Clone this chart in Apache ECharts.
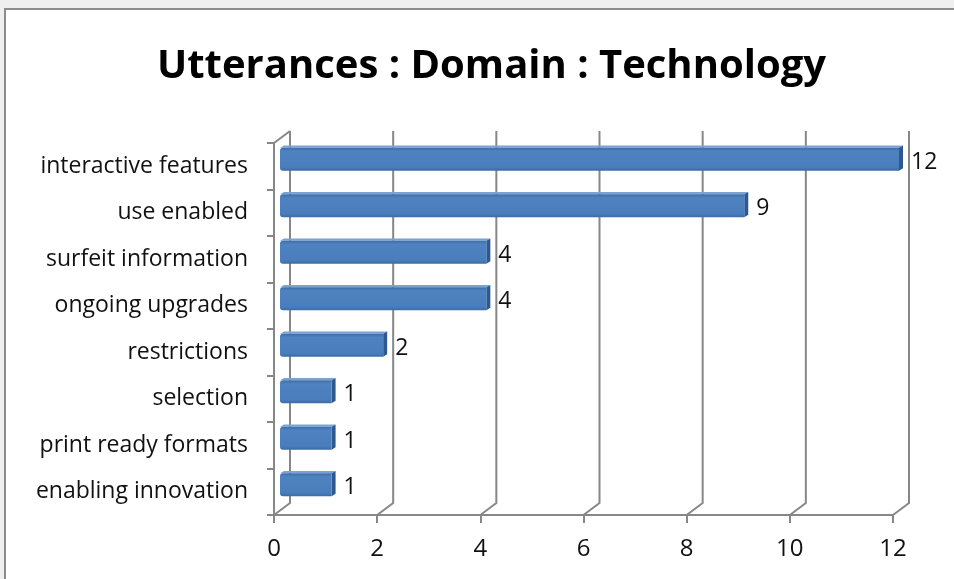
<!DOCTYPE html>
<html>
<head>
<meta charset="utf-8">
<script src="https://cdn.jsdelivr.net/npm/echarts@6/dist/echarts.min.js"></script>
<style>
  html, body { margin: 0; padding: 0; background: #efefef; }
  #frame {
    position: absolute; left: 4px; top: 8px; width: 950px; height: 571px;
    background: #fff; border-top: 2px solid #8c8c8c; border-left: 2px solid #8c8c8c;
  }
  #chart { position: absolute; left: 0; top: 0; width: 954px; height: 579px; }
</style>
</head>
<body>
<div id="frame"></div>
<div id="chart"></div>
<script>
const categories = [
  'interactive features', 'use enabled', 'surfeit information', 'ongoing upgrades',
  'restrictions', 'selection', 'print ready formats', 'enabling innovation'
];
const values = [12, 9, 4, 4, 2, 1, 1, 1];
const xTicks = [0, 2, 4, 6, 8, 10, 12];

const FONT = 'Open Sans';
const GRID_COLOR = '#878787';
// back wall offset (fake 3d depth)
const DX = 16, DY = 12;
// bars sit halfway into the depth
const BX = 6, BY = 7;

const chart = echarts.init(document.getElementById('chart'));

const renderGrid = (params, api) => {
  const cs = params.coordSys;
  const x = api.coord([api.value(0), 0])[0];
  const bottom = cs.y + cs.height;
  const top = cs.y;
  const style = { stroke: GRID_COLOR, lineWidth: 2, fill: null };
  const children = [{
    type: 'polyline',
    shape: { points: [[x, bottom], [x + DX, bottom - DY], [x + DX, top - DY]] },
    style: style
  }];
  if (api.value(0) === 0) {
    children.push({
      type: 'line',
      shape: { x1: x, y1: top, x2: x + DX, y2: top - DY },
      style: style
    });
  }
  return { type: 'group', children: children };
};

const renderBar = (params, api) => {
  const v = api.value(0);
  const i = api.value(1);
  const start = api.coord([0, i]);
  const end = api.coord([v, i]);
  const band = api.size([0, 1])[1];
  const h = band * 0.49;
  const x0 = start[0] + BX;
  const x1 = end[0] + BX;
  const y0 = start[1] - BY - h / 2;
  const y1 = y0 + h;
  const d = 4;
  return {
    type: 'group',
    children: [
      {
        type: 'polygon',
        shape: { points: [[x0, y0], [x0 + d, y0 - d * 0.6], [x1 + d, y0 - d * 0.6], [x1, y0]] },
        style: { fill: '#7aa3d4' }
      },
      {
        type: 'polygon',
        shape: { points: [[x1, y0], [x1 + d, y0 - d * 0.6], [x1 + d, y1 - d * 0.6], [x1, y1]] },
        style: { fill: '#2c5a90' }
      },
      {
        type: 'rect',
        shape: { x: x0, y: y0, width: x1 - x0, height: h, r: [3, 0, 0, 3] },
        style: {
          fill: new echarts.graphic.LinearGradient(0, 0, 0, 1, [
            { offset: 0, color: '#3d6ea9' },
            { offset: 0.15, color: '#4f82c0' },
            { offset: 0.85, color: '#4a7dbb' },
            { offset: 1, color: '#3c6ca6' }
          ])
        }
      },
      {
        type: 'text',
        x: x1 + d + 8,
        y: (y0 + y1) / 2 + 3,
        style: {
          text: String(v),
          fill: '#111',
          font: '23px "' + FONT + '"',
          textVerticalAlign: 'middle'
        }
      }
    ]
  };
};

chart.setOption({
  animation: false,
  textStyle: { fontFamily: FONT },
  title: {
    text: 'Utterances : Domain : Technology',
    left: 152,
    top: 42,
    textStyle: { fontSize: 40, fontWeight: 'bold', color: '#000', fontFamily: FONT }
  },
  grid: { left: 274, right: 61, top: 143, bottom: 64 },
  xAxis: {
    type: 'value',
    min: xTicks[0],
    max: xTicks[xTicks.length - 1],
    interval: xTicks[1] - xTicks[0],
    axisLine: { show: true, lineStyle: { color: GRID_COLOR, width: 2 } },
    axisTick: { show: true, length: 8, lineStyle: { color: GRID_COLOR, width: 2 } },
    axisLabel: { fontSize: 24, color: '#111', margin: 22 },
    splitLine: { show: false }
  },
  yAxis: {
    type: 'category',
    data: categories,
    inverse: true,
    axisLine: { show: true, lineStyle: { color: GRID_COLOR, width: 2 } },
    axisTick: { show: true, length: 7, lineStyle: { color: GRID_COLOR, width: 2 } },
    axisLabel: { fontSize: 23, color: '#111', margin: 26, padding: [4, 0, 0, 0] }
  },
  series: [
    {
      type: 'custom',
      z: 1,
      renderItem: renderGrid,
      data: xTicks.map(t => [t, 0]),
      silent: true
    },
    {
      type: 'custom',
      z: 3,
      renderItem: renderBar,
      data: values.map((v, i) => [v, i])
    }
  ]
});
</script>
</body>
</html>
